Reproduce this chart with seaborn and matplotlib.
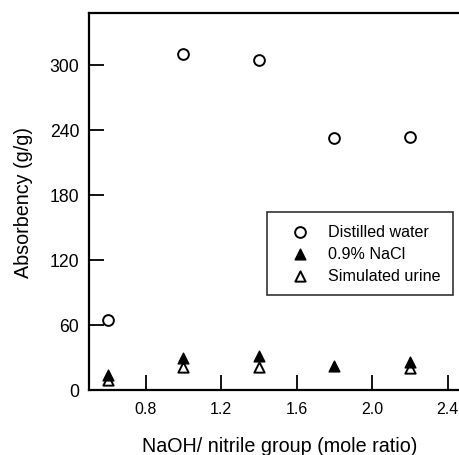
import matplotlib
matplotlib.use("Agg")
import matplotlib.pyplot as plt
import seaborn as sns
import pandas as pd

ratio = [0.6, 1.0, 1.4, 1.8, 2.2]
distilled = [65, 310, 305, 233, 234]
nacl = [14, 29.5, 31.5, 22, 26]
urine_x = [0.6, 1.0, 1.4, 2.2]
urine = [9.5, 21, 21.5, 20]

sns.set_style("ticks")
plt.rcParams['font.family'] = ['Liberation Sans', 'DejaVu Sans']
plt.rcParams['text.color'] = 'black'
plt.rcParams['axes.labelcolor'] = 'black'
plt.rcParams['xtick.color'] = 'black'
plt.rcParams['ytick.color'] = 'black'

fig = plt.figure(figsize=(4.59, 4.56), dpi=100)
ax = fig.add_axes([89/459, 65/456, 1 - 89/459, (391-14)/456])

df_d = pd.DataFrame({"x": ratio, "y": distilled})
df_n = pd.DataFrame({"x": ratio, "y": nacl})
df_u = pd.DataFrame({"x": urine_x, "y": urine})

sns.scatterplot(data=df_d, x="x", y="y", ax=ax, marker="o", s=60,
                facecolor="white", edgecolor="black", linewidth=1.4,
                label="Distilled water", zorder=3)
sns.scatterplot(data=df_n, x="x", y="y", ax=ax, marker="^", s=60,
                color="black", edgecolor="black", linewidth=1.0,
                label="0.9% NaCl", zorder=3)
sns.scatterplot(data=df_u, x="x", y="y", ax=ax, marker="^", s=55,
                facecolor="white", edgecolor="black", linewidth=1.4,
                label="Simulated urine", zorder=2)

ax.set_xlim(0.5, 0.5 + (459 - 89) / 188.8)
ax.set_ylim(0, 348)
ax.set_xticks([0.8, 1.2, 1.6, 2.0, 2.4])
ax.set_xticklabels(["0.8", "1.2", "1.6", "2.0", "2.4"])
ax.set_yticks([0, 60, 120, 180, 240, 300])
ax.tick_params(direction="in", length=11, width=1.3, colors="black")
ax.tick_params(axis="y", labelsize=12.7, pad=7)
ax.tick_params(axis="x", labelsize=11.5, pad=8)
for side in ["left", "bottom", "top"]:
    ax.spines[side].set_linewidth(1.6)
    ax.spines[side].set_color("black")
ax.spines["right"].set_visible(False)

ax.set_xlabel("NaOH/ nitrile group (mole ratio)", fontsize=14.2, color="black")
ax.xaxis.set_label_coords((279.5 - 89) / 370, -46 / 377)
ax.set_ylabel("Absorbency (g/g)", fontsize=14.2, labelpad=12, color="black")

leg = ax.legend(loc="upper left", bbox_to_anchor=((266.7-89)/370, (391-212.7)/377),
                frameon=True, fancybox=False, fontsize=11.6, handletextpad=0.45,
                borderpad=0.75, labelspacing=0.45, handlelength=2.6, borderaxespad=0)
leg.get_frame().set_edgecolor("black")
leg.get_frame().set_linewidth(1.2)
for t in leg.get_texts():
    t.set_color("black")

fig.savefig("out.png", dpi=100)
